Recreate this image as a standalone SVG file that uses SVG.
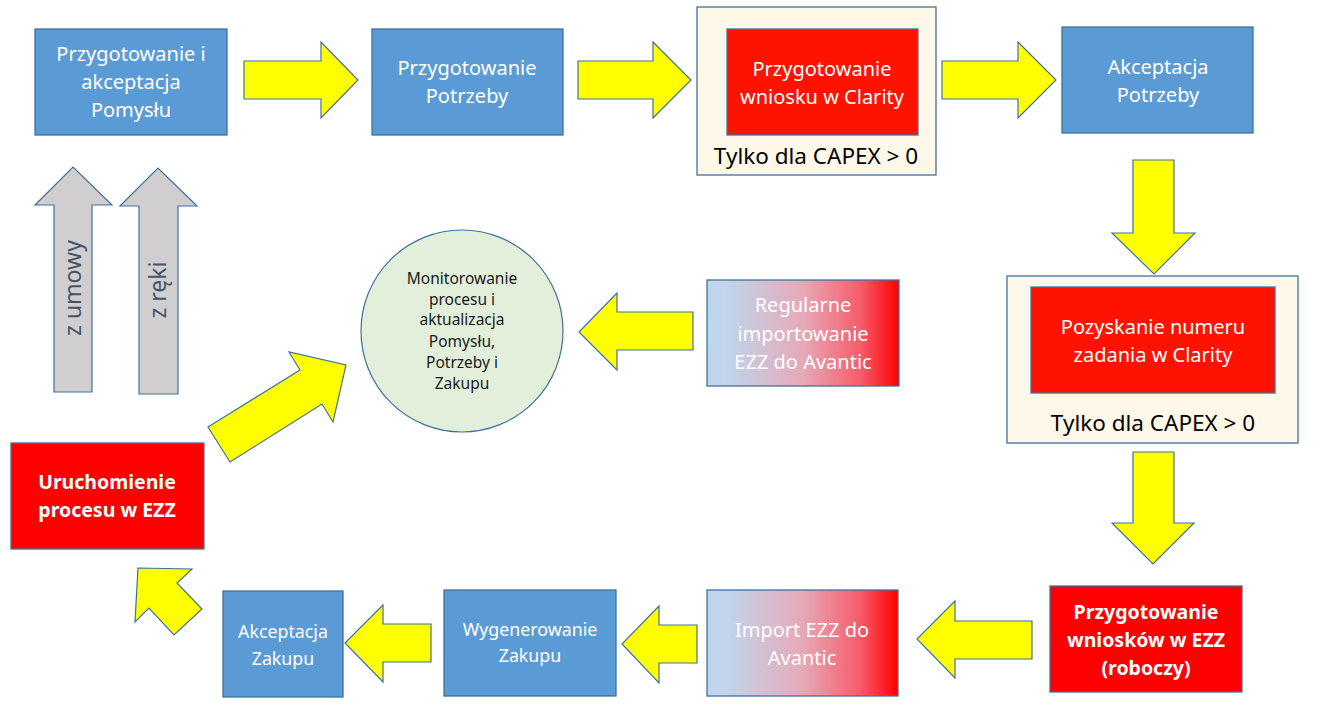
<svg xmlns="http://www.w3.org/2000/svg" width="1319" height="719" viewBox="0 0 1319 719">
<defs>
<linearGradient id="grad" x1="0" y1="0" x2="1" y2="0">
<stop offset="0" stop-color="#BDD7EE"/>
<stop offset="0.12" stop-color="#C2D3EA"/>
<stop offset="0.5" stop-color="#E6A9B7"/>
<stop offset="0.8" stop-color="#F65C6A"/>
<stop offset="1" stop-color="#FF0000"/>
</linearGradient>
<style>
.blue{fill:#5B9BD5;stroke:#41719C;stroke-width:1.3}
.red{fill:#FF1300;stroke:#41719C;stroke-width:1.3}
.red2{fill:#FF0000;stroke:#41719C;stroke-width:1.3}
.grad{fill:url(#grad);stroke:#41719C;stroke-width:1.3}
.cont{fill:#FEF8E8;stroke:#41719C;stroke-width:1.3}
.arr{fill:#FFFF00;stroke:#41719C;stroke-width:1.2;stroke-linejoin:miter}
.grey{fill:#D0CECE;stroke:#41719C;stroke-width:1.2}
.circ{fill:#E2EFDA;stroke:#41719C;stroke-width:1.2}
text{font-family:"Noto Sans","Open Sans","DejaVu Sans",sans-serif;text-anchor:middle}
.w{fill:#FFFFFF;font-size:20px}
.ws{fill:#FFFFFF;font-size:17.8px}
.wb{fill:#FFFFFF;font-size:19.5px;font-weight:bold}
.k{fill:#000000;font-size:22.5px}
.c{fill:#1A1A1A;font-size:15.5px}
.g{fill:#44546A;font-size:23px}
</style>
</defs>
<rect width="1319" height="719" fill="#FFFFFF"/>

<g id="connectors">
<polygon class="arr" points="244,61 321,61 321,42 358,80 321,118 321,99 244,99"/>
<polygon class="arr" points="578,61 653,61 653,42 691,80 653,118 653,99 578,99"/>
<polygon class="arr" points="942,61 1018,61 1018,42 1056,80 1018,118 1018,99 942,99"/>
<polygon class="arr" points="1133,160 1174,160 1174,233 1195,233 1154,274 1112,233 1133,233"/>
<polygon class="arr" points="1133,452 1174,452 1174,523 1194,523 1153,564 1112,523 1133,523"/>
<polygon class="arr" points="1032,621 1032,659 955,659 955,678 917,639 955,601 955,621"/>
<polygon class="arr" points="697,625 697,663 659,663 659,683 622,644 659,606 659,625"/>
<polygon class="arr" points="431,624 431,662 383,662 383,682 345,643 383,605 383,624"/>
<polygon class="arr" points="693,312 693,350 617,350 617,370 579,332 617,293 617,312"/>
<polygon class="arr" points="208,427 300,370 289,352 346,365 333,422 322,404 230,462"/>
<polygon class="arr" points="138,568 192,569 177,583 202,609 174,635 149,608 135,622"/>
<g id="up-umowy">
<polygon class="grey" points="54,392 54,205 35,205 73,167 112,205 92,205 92,392"/>
<text class="g" transform="translate(81,288) rotate(-90)">z umowy</text>
</g>
<g id="up-reki">
<polygon class="grey" points="139,394 139,206 120,206 158,168 197,206 178,206 178,394"/>
<text class="g" transform="translate(166,290) rotate(-90)">z ręki</text>
</g>
</g>

<g id="n-pomysl">
<rect class="blue" x="35" y="29" width="192" height="106"/>
<text class="w" x="131" y="61">Przygotowanie i</text>
<text class="w" x="131" y="89">akceptacja</text>
<text class="w" x="131" y="117">Pomysłu</text>
</g>

<g id="n-potrzeba">
<rect class="blue" x="372" y="29" width="191" height="106"/>
<text class="w" x="467" y="75">Przygotowanie</text>
<text class="w" x="467" y="103">Potrzeby</text>
</g>

<g id="n-wniosek-clarity">
<rect class="cont" x="697" y="7" width="239" height="168"/>
<rect class="red" x="727" y="29" width="191" height="106"/>
<text class="w" x="822" y="76">Przygotowanie</text>
<text class="w" x="822" y="104">wniosku w Clarity</text>
<text class="k" x="816" y="164">Tylko dla CAPEX &gt; 0</text>
</g>

<g id="n-akceptacja-potrzeby">
<rect class="blue" x="1062" y="27" width="191" height="106"/>
<text class="w" x="1158" y="74">Akceptacja</text>
<text class="w" x="1158" y="102">Potrzeby</text>
</g>

<g id="n-numer-zadania">
<rect class="cont" x="1007" y="276" width="291" height="167"/>
<rect class="red" x="1031" y="287" width="244" height="106"/>
<text class="w" x="1153" y="334">Pozyskanie numeru</text>
<text class="w" x="1153" y="362">zadania w Clarity</text>
<text class="k" x="1153" y="431">Tylko dla CAPEX &gt; 0</text>
</g>

<g id="n-wnioski-ezz">
<rect class="red2" x="1050" y="586" width="192" height="106"/>
<text class="wb" x="1146" y="619">Przygotowanie</text>
<text class="wb" x="1146" y="647">wniosków w EZZ</text>
<text class="wb" x="1146" y="675">(roboczy)</text>
</g>

<g id="n-import">
<rect class="grad" x="707" y="590" width="191" height="106"/>
<text class="w" x="802" y="637">Import EZZ do</text>
<text class="w" x="802" y="665">Avantic</text>
</g>

<g id="n-wygenerowanie">
<rect class="blue" x="444" y="590" width="172" height="106"/>
<text class="ws" x="530" y="636">Wygenerowanie</text>
<text class="ws" x="530" y="662">Zakupu</text>
</g>

<g id="n-akceptacja-zakupu">
<rect class="blue" x="223" y="591" width="120" height="106"/>
<text class="ws" x="283" y="638">Akceptacja</text>
<text class="ws" x="283" y="665">Zakupu</text>
</g>

<g id="n-uruchomienie">
<rect class="red2" x="11" y="443" width="193" height="106"/>
<text class="wb" x="107" y="489">Uruchomienie</text>
<text class="wb" x="107" y="517">procesu w EZZ</text>
</g>

<g id="n-regularne">
<rect class="grad" x="707" y="280" width="192" height="106"/>
<text class="w" x="803" y="312">Regularne</text>
<text class="w" x="803" y="341">importowanie</text>
<text class="w" x="803" y="369">EZZ do Avantic</text>
</g>

<g id="n-monitorowanie">
<circle class="circ" cx="462" cy="331" r="101"/>
<text class="c" x="462" y="284">Monitorowanie</text>
<text class="c" x="462" y="305">procesu i</text>
<text class="c" x="462" y="325">aktualizacja</text>
<text class="c" x="462" y="347">Pomysłu,</text>
<text class="c" x="462" y="368">Potrzeby i</text>
<text class="c" x="462" y="389">Zakupu</text>
</g>
</svg>
